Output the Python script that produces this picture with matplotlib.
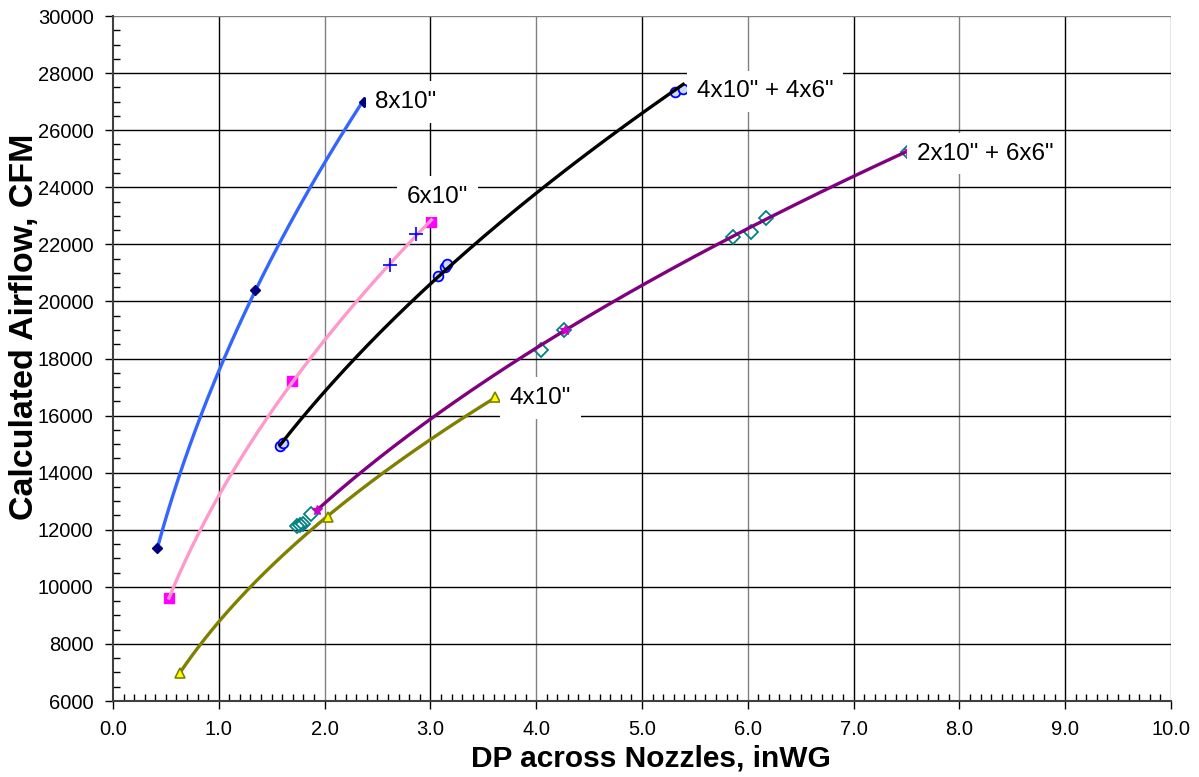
import matplotlib
matplotlib.use("Agg")
import matplotlib.pyplot as plt
import numpy as np
from matplotlib.ticker import MultipleLocator, FormatStrFormatter

plt.rcParams['font.family'] = ['Liberation Sans', 'DejaVu Sans']

# 8x10" nozzles
dp_8x10 = [0.42, 1.34, 2.37]
cfm_8x10 = [11350, 20400, 27000]

# 6x10" nozzles (squares) + extra points (plus)
dp_6x10 = [0.53, 1.69, 3.01]
cfm_6x10 = [9600, 17200, 22800]
dp_6x10_b = [2.62, 2.86]
cfm_6x10_b = [21280, 22350]

# 4x10" + 4x6"
dp_4x10_4x6 = [1.58, 1.61, 3.07, 3.14, 3.16, 5.31, 5.39]
cfm_4x10_4x6 = [14950, 15030, 20890, 21200, 21310, 27350, 27430]

# 2x10" + 6x6" (purple trend points + teal measured points)
dp_2x10_6x6 = [1.93, 4.27, 7.52]
cfm_2x10_6x6 = [12690, 19000, 25270]
dp_2x10_6x6_b = [1.74, 1.77, 1.80, 1.87, 4.05, 4.26, 5.86, 6.03, 6.17, 7.51]
cfm_2x10_6x6_b = [12130, 12170, 12210, 12550, 18300, 19000, 22250, 22440, 22930, 25250]

# 4x10"
dp_4x10 = [0.63, 2.03, 3.61]
cfm_4x10 = [6980, 12440, 16660]

labels = ['8x10"', '6x10"', '4x10" + 4x6"', '2x10" + 6x6"', '4x10"']


def power_fit(x, y):
    # Excel-style power trendline
    b, lna = np.polyfit(np.log(x), np.log(y), 1)
    xs = np.linspace(min(x), max(x), 200)
    return xs, np.exp(lna) * xs ** b


fig = plt.figure(figsize=(11.99, 7.77), dpi=100)
ax = fig.add_axes([0.0942, 0.0978, 0.8824, 0.8816])
ax.set_xlim(0, 10)
ax.set_ylim(6000, 30000)

# gridlines (even verticals render gray in the original)
for gx in range(1, 11):
    ax.axvline(gx, color='#808080' if gx % 2 == 0 else 'black', lw=1.0, zorder=0)
for gy in range(8000, 30001, 2000):
    ax.axhline(gy, color='#808080' if gy == 30000 else 'black', lw=1.0, zorder=0)

lw = 2.4
# 8x10"
xs, ys = power_fit(dp_8x10, cfm_8x10)
ax.plot(xs, ys, color='#3366FF', lw=lw, zorder=3)
ax.plot(dp_8x10, cfm_8x10, 'D', color='#000080', ms=5, zorder=4)

# 6x10"
ax.plot(dp_6x10, cfm_6x10, 's', color='#FF00FF', ms=6.5, zorder=2)
ax.plot(dp_6x10_b, cfm_6x10_b, '+', color='#0000FF', ms=10, mew=1.2, zorder=4)
xs, ys = power_fit(dp_6x10, cfm_6x10)
ax.plot(xs, ys, color='#FF99CC', lw=lw, zorder=3)

# 4x10" + 4x6"
ax.plot(dp_4x10_4x6, cfm_4x10_4x6, 'o', mfc='#C8DCFF', mec='#0000FF', ms=7, mew=1.3, zorder=2)
xs, ys = power_fit(dp_4x10_4x6, cfm_4x10_4x6)
ax.plot(xs, ys, color='black', lw=lw, zorder=3)

# 2x10" + 6x6"
ax.plot(dp_2x10_6x6_b, cfm_2x10_6x6_b, 'D', mfc='none', mec='#008080', ms=7, mew=1.3, zorder=2)
xs, ys = power_fit(dp_2x10_6x6, cfm_2x10_6x6)
ax.plot(xs, ys, color='#800080', lw=lw, zorder=3)
ax.plot(dp_2x10_6x6, cfm_2x10_6x6, '*', color='#CC00CC', ms=7, zorder=4)

# 4x10"
xs, ys = power_fit(dp_4x10, cfm_4x10)
ax.plot(xs, ys, color='#808000', lw=lw, zorder=3)
ax.plot(dp_4x10, cfm_4x10, '^', mfc='#FFFF00', mec='#808000', ms=7, mew=1.2, zorder=4)

# curve labels
label_pos = [(2.48, 26980), (2.78, 23670), (5.52, 27360), (7.6, 25180), (3.75, 16620)]
box = dict(boxstyle='square,pad=0.4', fc='white', ec='none')
for (lx, ly), txt in zip(label_pos, labels):
    ax.text(lx, ly, txt, fontsize=17.5, ha='left', va='center', bbox=box, zorder=5)

# axes styling
for s in ['top', 'right']:
    ax.spines[s].set_visible(False)
for s in ['left', 'bottom']:
    ax.spines[s].set_color('#404040')
    ax.spines[s].set_linewidth(1.5)
    ax.spines[s].set_zorder(6)

ax.xaxis.set_major_locator(MultipleLocator(1))
ax.xaxis.set_minor_locator(MultipleLocator(0.1))
ax.yaxis.set_major_locator(MultipleLocator(2000))
ax.yaxis.set_minor_locator(MultipleLocator(500))
ax.xaxis.set_major_formatter(FormatStrFormatter('%.1f'))
ax.tick_params(which='major', direction='out', length=6, width=1, labelsize=14.5, pad=8)
ax.tick_params(which='minor', direction='in', length=5, width=1)

ax.set_xlabel('DP across Nozzles, inWG', fontsize=21.5, fontweight='bold')
ax.set_ylabel('Calculated Airflow, CFM', fontsize=24.5, fontweight='bold')
ax.xaxis.set_label_coords(0.5085, -0.063)
ax.yaxis.set_label_coords(-0.069, 0.546)

fig.savefig('out.png', dpi=100, facecolor='white')
